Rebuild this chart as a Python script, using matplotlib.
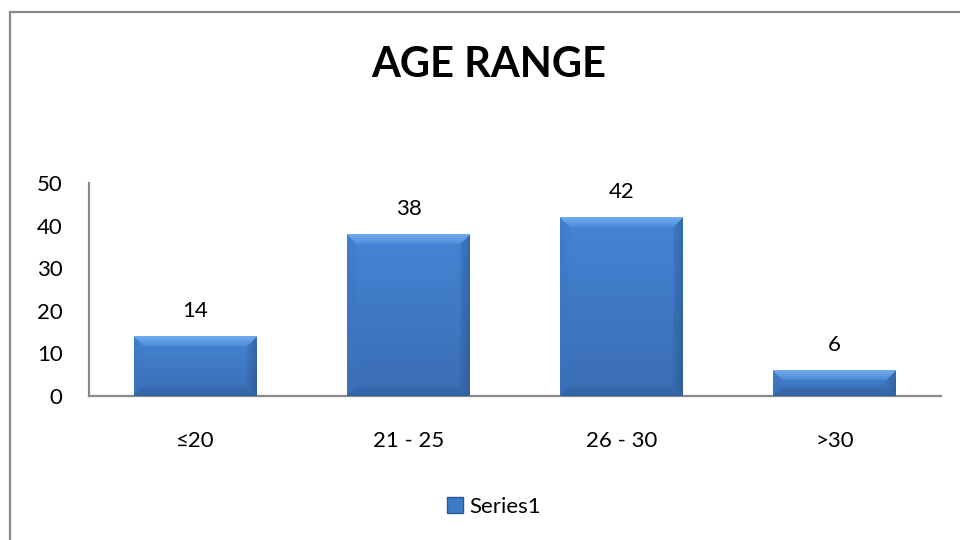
import numpy as np
import matplotlib
matplotlib.use('Agg')
import matplotlib.pyplot as plt
from matplotlib.patches import Rectangle
from matplotlib.colors import to_rgb

# ---- data ----
categories = ['≤20', '21 - 25', '26 - 30', '>30']
values = [14, 38, 42, 6]
series_name = 'Series1'
title = 'AGE RANGE'
yticks = [0, 10, 20, 30, 40, 50]

plt.rcParams['font.family'] = ['Lato', 'DejaVu Sans']

W, H = 960, 540
fig = plt.figure(figsize=(9.6, 5.4), dpi=100)
ax = fig.add_axes([89 / W, 1 - 396 / H, (941 - 89) / W, 213 / H])

x = np.arange(len(categories))
bars = ax.bar(x, values, width=0.577, color='#3F7AC6', zorder=2, linewidth=0)

ax.set_xlim(-0.5, len(categories) - 0.5)
ax.set_ylim(0, 50)
ax.set_yticks(yticks)
ax.set_xticks(x)
ax.set_xticklabels(categories)

for s in ['top', 'right']:
    ax.spines[s].set_visible(False)
for s in ['left', 'bottom']:
    ax.spines[s].set_color('#8a8a8a')
    ax.spines[s].set_linewidth(1.6)
ax.tick_params(axis='both', length=0, labelsize=16, colors='black')
ax.tick_params(axis='y', pad=19)
ax.tick_params(axis='x', pad=25)

# ---- bevel shading on bars ----
fig.canvas.draw()
renderer = fig.canvas.get_renderer()
bev = 10.0
face_top = np.array(to_rgb('#4585D5'))
face_bot = np.array(to_rgb('#3A6DB4'))
top_c = np.array(to_rgb('#7DB6F4'))
left_c = np.array(to_rgb('#3A74C2'))
right_c = np.array(to_rgb('#2A538E'))
bot_c = np.array(to_rgb('#2F5A97'))
for b in bars:
    bb = b.get_window_extent(renderer)
    w = max(int(round(bb.width)), 2)
    h = max(int(round(bb.height)), 2)
    ii, jj = np.mgrid[0:h, 0:w]
    dt = ii.astype(float)
    db = (h - 1 - ii).astype(float)
    dl = jj.astype(float)
    dr = (w - 1 - jj).astype(float)
    t = (ii / max(h - 1, 1))[..., None]
    face = face_top * (1 - t) + face_bot * t
    img = face.copy()
    dmin = np.minimum(np.minimum(dt, db), np.minimum(dl, dr))
    m = dmin < bev
    top_m = m & (dt == dmin)
    bot_m = m & (db == dmin) & ~top_m
    left_m = m & (dl == dmin) & ~top_m & ~bot_m
    right_m = m & (dr == dmin) & ~top_m & ~bot_m & ~left_m
    wgt = np.clip(1 - dmin / bev, 0, 1)[..., None]
    for mask, col, k in [(top_m, top_c, 0.9), (bot_m, bot_c, 0.6),
                         (left_m, left_c, 0.5), (right_m, right_c, 0.6)]:
        blend = face * (1 - k * wgt) + col * (k * wgt)
        # soften: bevel area gets half-tone of edge colour throughout
        blend = blend * 0.7 + (face * 0.5 + col * 0.5) * 0.3
        img = np.where(mask[..., None], blend, img)
    x0 = b.get_x()
    x1 = x0 + b.get_width()
    im = ax.imshow(np.clip(img, 0, 1), extent=(x0, x1, 0, b.get_height()),
                   aspect='auto', zorder=3, interpolation='bilinear',
                   origin='upper')
    im.set_clip_path(b)

ax.set_xlim(-0.5, len(categories) - 0.5)
ax.set_ylim(0, 50)

# ---- data labels ----
for xi, v in zip(x, values):
    ax.annotate(str(v), (xi, v), xytext=(0, 19), textcoords='offset pixels',
                ha='center', va='baseline', fontsize=16, color='black', zorder=5)

# ---- title ----
fig.text(489 / W, 1 - 77 / H, title, ha='center', va='baseline',
         fontsize=30, fontweight='bold', color='black')

# ---- legend ----
leg = fig.legend([bars[0]], [series_name], loc='center',
                 bbox_to_anchor=(494 / W, 1 - 507 / H), frameon=False,
                 fontsize=16, handlelength=0.7, handleheight=0.7,
                 handletextpad=0.3)
for hnd in leg.legend_handles:
    hnd.set_edgecolor('#2D5895')
    hnd.set_linewidth(1.0)

# ---- outer frame ----
fig.add_artist(Rectangle((10 / W, -0.2), 1.5, (1 - 12 / H) + 0.2,
                         transform=fig.transFigure, fill=False,
                         edgecolor='#888888', linewidth=1.6))

fig.savefig('out.png', dpi=100)
